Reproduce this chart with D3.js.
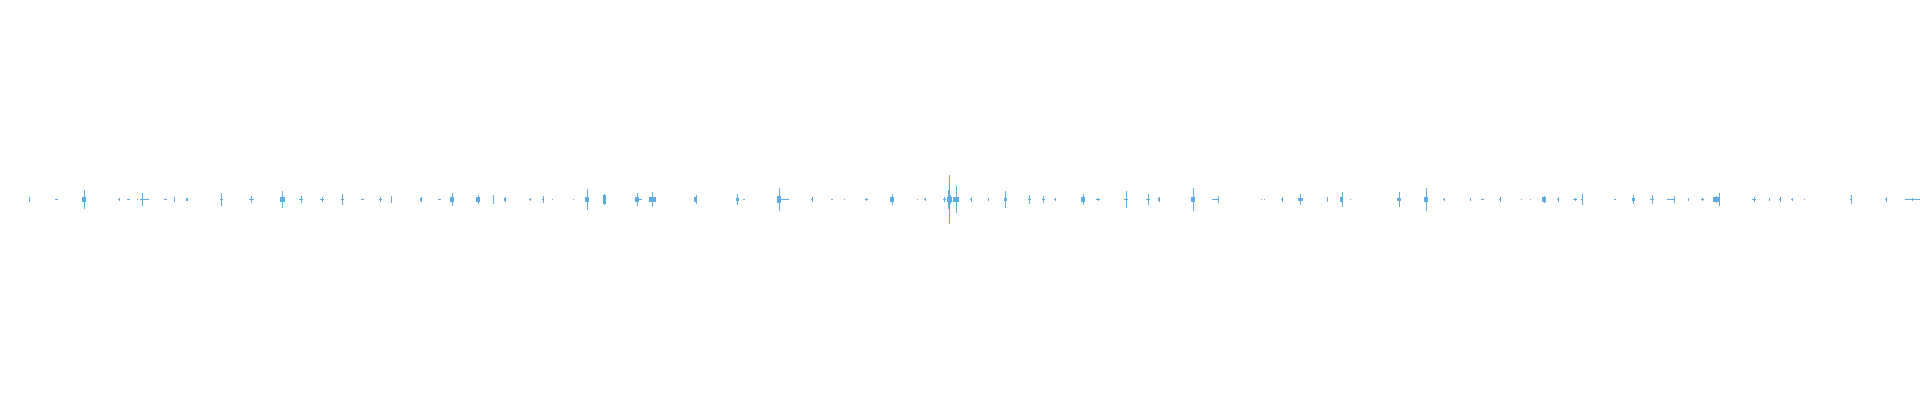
<!DOCTYPE html>
<html>
<head>
<meta charset="utf-8">
<script src="https://cdn.jsdelivr.net/npm/d3@7/dist/d3.min.js"></script>
<style>
html,body{margin:0;padding:0;background:#fff;}
svg{display:block;}
</style>
</head>
<body>
<svg id="chart" width="1920" height="400"></svg>
<script>
// Sample position of each burst (time axis, in samples)
const eventTimes = [29.3,56.7,84.3,119.3,128.7,137,142.3,145,165.7,173.7,186.7,221.3,251,282.3,301,322.3,
  342.3,362.7,380.3,391.3,421,439,452.3,478.3,493.3,505,529.7,543.3,552.3,573.3,586.7,604,637.3,640,
  652.3,695.7,737.3,744,779.3,784,811.7,831.7,844.3,866.3,892.3,917.3,924.5,944.3,948.3,949.3,950.3,
  956,970.5,988.3,1005.3,1029,1043.3,1055,1083.3,1098,1126.3,1147.7,1159,1193.3,1218,1214.5,1261.3,
  1264.3,1281.7,1300.3,1327,1341.7,1350.3,1399.3,1426.3,1444,1470.3,1482.7,1500.3,1521.3,1530.3,1544,
  1558,1575.3,1582.3,1614.7,1633.3,1652.3,1674,1670,1687.7,1702.3,1716,1719,1753.7,1769,1779.7,1792.3,
  1803.7,1851,1885.7,1912];
// Peak amplitude (normalised, symmetric around zero)
const peakAmps = [0.014,0.005,0.05,0.01,0.005,0.003,0.035,0.003,0.003,0.014,0.008,0.032,0.02,0.045,0.018,0.013,
  0.028,0.005,0.015,0.02,0.015,0.003,0.035,0.025,0.025,0.013,0.01,0.02,0.003,0.003,0.055,0.03,0.035,0.003,
  0.038,0.025,0.03,0.003,0.06,0.003,0.013,0.003,0.003,0.01,0.028,0.003,0.01,0.013,0.05,0.123,0.025,
  0.07,0.015,0.01,0.045,0.023,0.02,0.01,0.028,0.01,0.045,0.03,0.014,0.058,0.018,0.003,0.003,
  0.003,0.015,0.028,0.013,0.038,0.003,0.04,0.06,0.01,0.01,0.005,0.015,0.003,0.003,0.02,
  0.015,0.008,0.028,0.005,0.023,0.025,0.02,0.003,0.01,0.01,0.02,0.033,0.012,0.008,0.013,0.01,
  0.005,0.023,0.015,0.008];
// Amplitude of the denser body of each burst
const bodyAmps = [0,0.003,0.011,0.003,0.003,0,0.004,0.003,0.003,0,0.006,0.004,0.003,0.015,0.003,0.003,
  0.003,0.003,0.004,0,0.008,0.003,0.015,0.011,0,0.006,0.003,0.003,0,0,0.015,0.022,0.015,0.003,
  0.011,0.011,0.008,0.003,0.019,0.003,0.003,0.003,0,0.003,0.011,0,0.003,0.003,0.015,0,0.011,
  0.011,0.003,0,0.008,0.003,0.003,0.004,0.011,0.003,0.003,0.003,0.006,0.011,0.003,0.003,0,
  0,0.003,0.006,0,0.011,0,0.008,0.015,0.003,0,0.003,0.003,0,0,0.015,
  0.003,0.003,0.003,0.004,0.008,0.003,0.003,0.003,0,0.003,0.011,0.011,0.003,0,0.003,0.004,
  0,0.003,0.004,0.003];
// Duration of the body (samples)
const bodyWidths = [0,3,4,2,3,0,4,8,3,0,2,3,5,5,4,4,
  3,3,3,0,2,3,4,4,0,2,2,2,0,0,4,3,4,4,
  7,3,3,2,4,10,2,2,0,3,4,0,2,3,3,0,4,
  6,2,0,3,3,3,2,4,4,4,4,2,4,2,6,0,
  0,2,5,0,3,0,4,4,2,0,3,2,0,0,4,
  2,4,2,2,3,4,2,6,0,3,7,2,4,0,2,2,
  0,2,2,15];

const W = 1920, H = 400;
const svg = d3.select('#chart');
const x = d3.scaleLinear().domain([0, 1920]).range([0, W]);
const y = d3.scaleLinear().domain([-1, 1]).range([399, 0]);
const color = '#5dade2';

const data = eventTimes.map((t, i) => ({t, a: peakAmps[i], b: bodyAmps[i], w: bodyWidths[i]}));

const g = svg.append('g').attr('shape-rendering', 'crispEdges');

// bodies
g.selectAll('rect.body').data(data.filter(d => d.w > 0)).join('rect')
  .attr('class', 'body')
  .attr('x', d => Math.round(x(d.t - d.w / 2)))
  .attr('width', d => Math.max(1, Math.round(x(d.w) - x(0))))
  .attr('y', d => Math.min(y(d.b), y(0) - 0.5))
  .attr('height', d => Math.max(1, y(-d.b) - y(d.b)))
  .attr('fill', color);

// peaks
const line = d3.line().x(d => d[0]).y(d => d[1]);
g.selectAll('path.peak').data(data).join('path')
  .attr('class', 'peak')
  .attr('d', d => {
    const px = Math.round(x(d.t)) + 0.5;
    const top = Math.min(y(d.a), y(0) - 0.5), bot = Math.max(y(-d.a), y(0) + 0.5);
    return line([[px, top], [px, bot]]);
  })
  .attr('stroke', color)
  .attr('stroke-width', 1)
  .attr('fill', 'none');
</script>
</body>
</html>
